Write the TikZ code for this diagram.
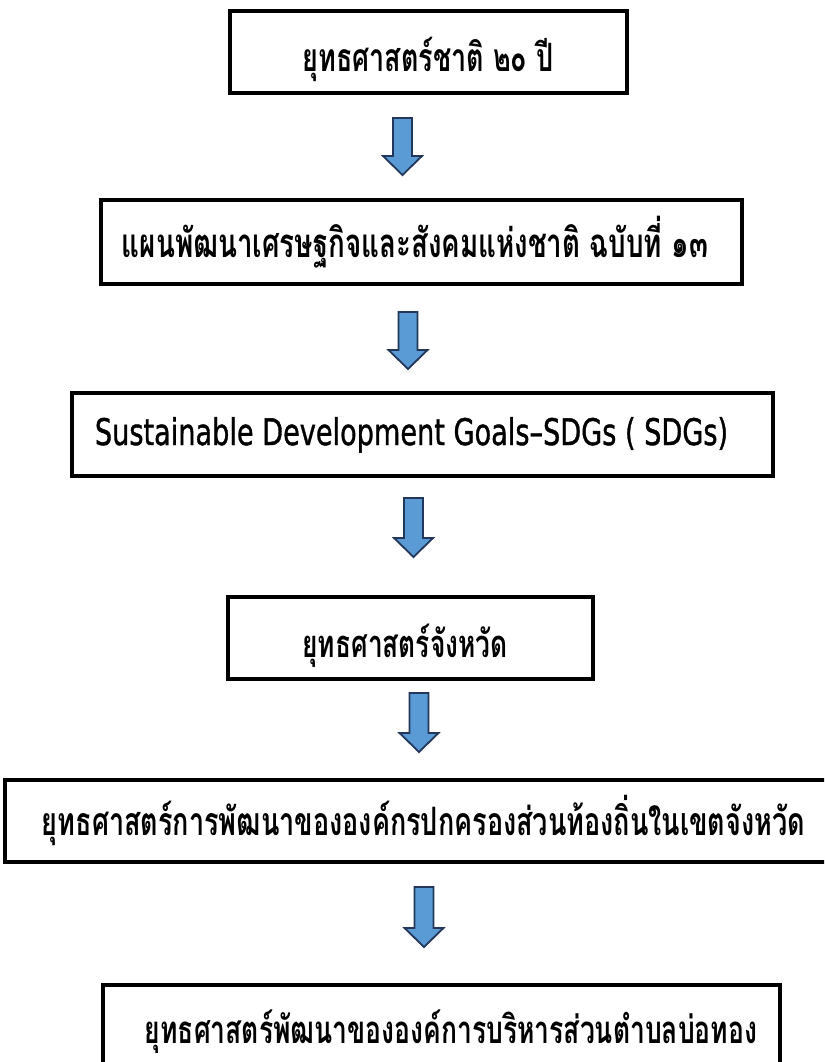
\documentclass[tikz,border=0pt]{standalone}
\usepackage{graphicx}
\usepackage{fontspec}
\setmainfont{DejaVu Sans}
\newfontfamily\thaifont[Script=Thai]{Loma}
\newfontfamily\latfont[FakeBold=1.2]{DejaVu Sans}
\definecolor{arrowfill}{HTML}{5B9BD5}
\definecolor{arrowline}{HTML}{22375A}
\newcommand\fitw[3]{\resizebox{#1pt}{!}{\scalebox{1}[#2]{#3}}}
\newcommand\barr[3]{\draw[barrow] (#1-9.5,#2) -- (#1+9.5,#2) -- (#1+9.5,#3-19) -- (#1+19.5,#3-19) -- (#1,#3) -- (#1-19.5,#3-19) -- (#1-9.5,#3-19) -- cycle;}
\begin{document}
\begin{tikzpicture}[x=1pt,y=-1pt,
  box/.style={draw=black, line width=3.5pt, inner sep=0pt, minimum width=#1},
  lbl/.style={inner sep=0pt, anchor=base},
  barrow/.style={fill=arrowfill, draw=arrowline, line width=1.8pt, line join=miter}]
\fill[white] (0,0) rectangle (824,1062);
\useasboundingbox (0,0) rectangle (824,1062);
\clip (0,0) rectangle (824,1062);
% boxes
\node[box=397pt, minimum height=82pt] (b1) at (428.5,52) {};
\node[box=641pt, minimum height=84pt] (b2) at (421.5,242) {};
\node[box=701pt, minimum height=83pt] (b3) at (422.5,434.5) {};
\node[box=365pt, minimum height=82pt] (b4) at (410.5,638) {};
\node[box=825pt, minimum height=82pt] (b5) at (417.5,821) {};
\node[box=677pt, minimum height=82pt] (b6) at (441.5,1026) {};
% texts
\node[lbl] (t1) at (428,72) {\fitw{251}{1.45}{\thaifont\bfseries ยุทธศาสตร์ชาติ ๒๐ ปี}};
\node[lbl] (t2) at (415,257) {\fitw{586}{1.45}{\thaifont\bfseries แผนพัฒนาเศรษฐกิจและสังคมแห่งชาติ ฉบับที่ ๑๓}};
\node[lbl] (t3) at (411.5,445) {\fitw{633}{1.35}{\latfont Sustainable Development Goals–SDGs ( SDGs)}};
\node[lbl] (t4) at (405,657) {\fitw{205}{1.45}{\thaifont\bfseries ยุทธศาสตร์จังหวัด}};
\node[lbl] (t5) at (423.5,835) {\fitw{763}{1.45}{\thaifont\bfseries ยุทธศาสตร์การพัฒนาขององค์กรปกครองส่วนท้องถิ่นในเขตจังหวัด}};
\node[lbl] (t6) at (451,1043) {\fitw{612}{1.45}{\thaifont\bfseries ยุทธศาสตร์พัฒนาขององค์การบริหารส่วนตำบลบ่อทอง}};
% arrows
\barr{402.5}{118}{175}
\barr{408}{312}{369}
\barr{413.5}{498}{557}
\barr{419}{693}{752}
\barr{424}{887}{947}
\end{tikzpicture}
\end{document}
